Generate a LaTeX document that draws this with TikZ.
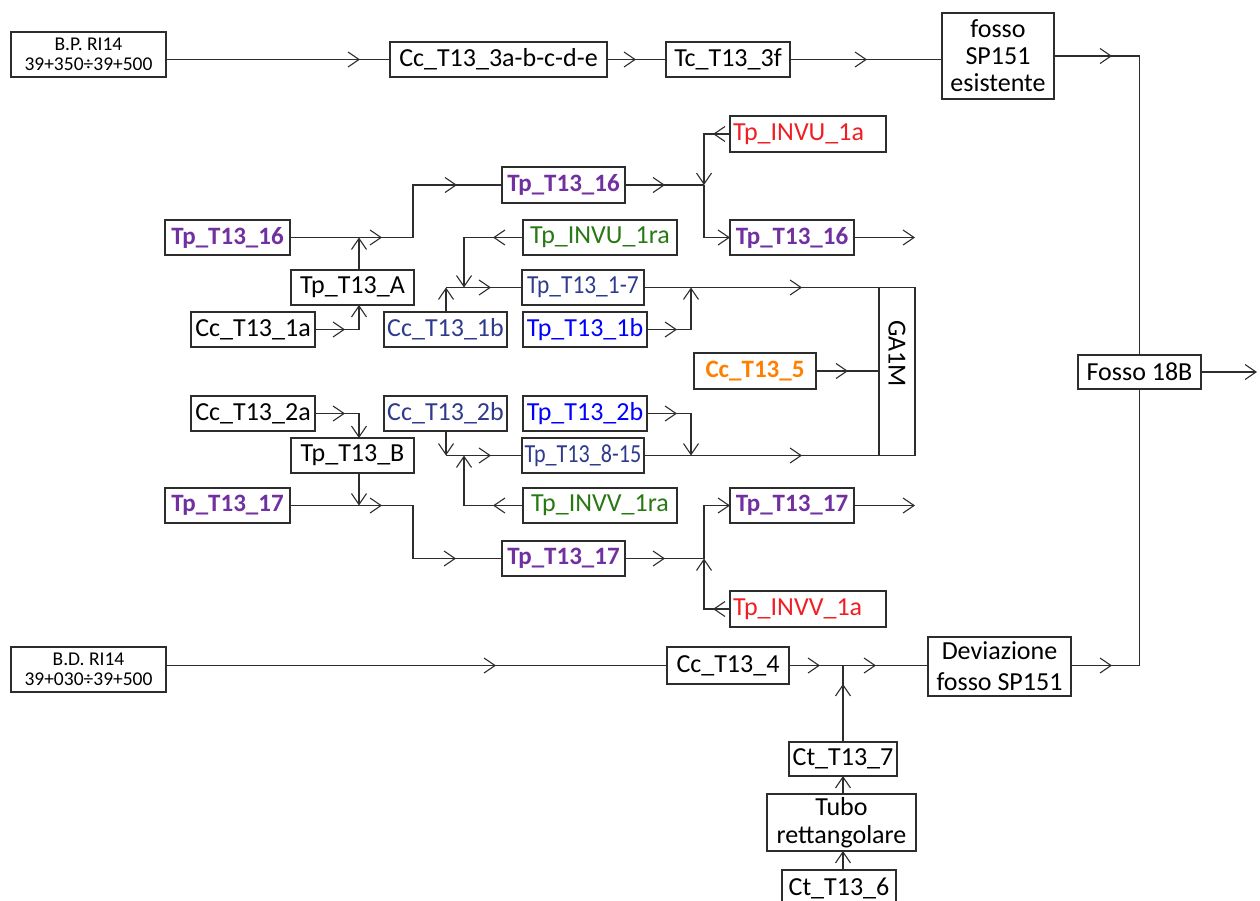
\documentclass[tikz,border=0pt]{standalone}
\usepackage{fontspec}
\usepackage{graphicx}
\setmainfont{Carlito}
\usetikzlibrary{arrows.meta,decorations.markings}
\definecolor{cpurple}{RGB}{112,48,160}
\definecolor{cred}{RGB}{240,30,35}
\definecolor{cgreen}{RGB}{40,120,20}
\definecolor{cdblue}{RGB}{46,58,140}
\definecolor{cblue}{RGB}{0,0,255}
\definecolor{corange}{RGB}{255,128,0}
\definecolor{cline}{RGB}{45,45,45}
\tikzset{
  box/.style={draw=cline, line width=1.1pt, inner sep=0pt, outer sep=0pt, align=center, font=\fontsize{26}{28}\selectfont},
  smallf/.style={font=\fontsize{19.5}{20}\selectfont},
  pbold/.style={text=cpurple, font=\fontsize{25}{28}\selectfont\bfseries},
  conn/.style={draw=cline, line width=1.1pt},
  >={Straight Barb[length=11pt,width=15pt]},
  ar/.style={postaction={decorate,decoration={markings,mark=at position #1 with {\arrow{>}}}}},
}
\newcommand{\BoxN}[7]{\node[box,#6,minimum width={(#4-#2)*1pt},minimum height={(#5-#3)*1pt}] (#1) at ({(#2+#4)/2},{(#3+#5)/2}) {#7};}
\begin{document}
\begin{tikzpicture}[x=1pt,y=-1pt]
\useasboundingbox (0,0) rectangle (1260,900);
% ---------- nodes ----------
\BoxN{bp}{11}{32}{166}{77}{smallf}{B.P. RI14\\39+350÷39+500}
\BoxN{cc3}{390}{42}{607}{77}{}{Cc\_T13\_3a-b-c-d-e}
\BoxN{tc}{666}{42}{790}{77}{}{Tc\_T13\_3f}
\BoxN{fosso}{942}{13}{1054}{99}{font=\fontsize{26}{27}\selectfont}{fosso\\SP151\\esistente}
\BoxN{invu1a}{730}{116}{886}{152}{text=cred,text width=150pt,align=left}{Tp\_INVU\_1a}
\BoxN{tp16T}{502}{167}{625}{203}{pbold}{Tp\_T13\_16}
\BoxN{tp16L}{165}{220}{290}{255}{pbold}{Tp\_T13\_16}
\BoxN{invu1ra}{523}{220}{677}{255}{text=cgreen}{Tp\_INVU\_1ra}
\BoxN{tp16R}{730}{220}{854}{255}{pbold}{Tp\_T13\_16}
\BoxN{tpA}{291}{270}{414}{305}{}{Tp\_T13\_A}
\BoxN{tp17}{522}{270}{644}{305}{text=cdblue}{\scalebox{0.9}[1]{Tp\_T13\_1-7}}
\BoxN{cc1a}{191}{312}{315}{347}{}{Cc\_T13\_1a}
\BoxN{cc1b}{384}{312}{507}{347}{text=cdblue}{Cc\_T13\_1b}
\BoxN{tp1b}{523}{312}{647}{347}{text=cblue}{Tp\_T13\_1b}
\node[box,rotate=-90,minimum width=168pt,minimum height=36pt,text width=103pt,align=left] (ga) at (897,371.5) {GA1M};
\BoxN{cc5}{694}{353}{816}{389}{text=corange,font=\fontsize{25}{28}\selectfont\bfseries}{Cc\_T13\_5}
\BoxN{fosso18}{1078}{355}{1201}{389}{}{Fosso 18B}
\BoxN{cc2a}{191}{396}{315}{431}{}{Cc\_T13\_2a}
\BoxN{cc2b}{384}{396}{507}{431}{text=cdblue}{Cc\_T13\_2b}
\BoxN{tp2b}{523}{396}{647}{431}{text=cblue}{Tp\_T13\_2b}
\BoxN{tpB}{291}{438}{414}{473}{}{Tp\_T13\_B}
\BoxN{tp815}{522}{438}{644}{473}{text=cdblue}{\scalebox{0.85}[1]{Tp\_T13\_8-15}}
\BoxN{tp17L}{165}{488}{290}{523}{pbold}{Tp\_T13\_17}
\BoxN{invv1ra}{523}{488}{677}{523}{text=cgreen}{Tp\_INVV\_1ra}
\BoxN{tp17R}{730}{488}{854}{523}{pbold}{Tp\_T13\_17}
\BoxN{tp17B}{502}{541}{625}{576}{pbold}{Tp\_T13\_17}
\BoxN{invv1a}{730}{591}{886}{627}{text=cred,text width=150pt,align=left}{Tp\_INVV\_1a}
\BoxN{bd}{11}{647}{166}{692}{smallf}{B.D. RI14\\39+030÷39+500}
\BoxN{cc4}{667}{647}{789}{684}{}{Cc\_T13\_4}
\BoxN{dev}{928}{637}{1071}{696}{font=\fontsize{26}{31}\selectfont}{Deviazione\\fosso SP151}
\BoxN{ct7}{789}{742}{897}{776}{}{Ct\_T13\_7}
\BoxN{tubo}{767}{794}{916}{851}{}{Tubo\\rettangolare}
\BoxN{ct6}{782}{870}{896}{906}{}{Ct\_T13\_6}
% ---------- coordinates ----------
\coordinate (outR) at (1257,372);
\coordinate (o16) at (915,237.5);
\coordinate (o17) at (915,505.5);
\coordinate (jA) at (359,237.5);
\coordinate (jU) at (704,185);
\coordinate (jB) at (464,287.5);
\coordinate (jB1) at (446,287.5);
\coordinate (jF) at (691,287.5);
\coordinate (jBB) at (359,505.5);
\coordinate (jC) at (446,455.5);
\coordinate (jD) at (464,455.5);
\coordinate (jE) at (691,455.5);
\coordinate (jL) at (704,558.5);
% ---------- top row ----------
\draw[conn,ar=194pt] (bp.east |- cc3.west) -- (cc3.west);
\draw[conn,ar=29pt] (cc3.east) -- (tc.west);
\draw[conn,ar=77pt] (tc.east) -- (tc.east -| fosso.west);
\draw[conn,ar=58pt] (fosso.east) -| (fosso18.north);
\draw[conn,->] (fosso18.east) -- (outR);
\draw[conn,ar=41pt] (cc4.east -| dev.east) -| (fosso18.south);
% ---------- upper branch ----------
\draw[conn,ar=92pt,ar=219.5pt] (tp16L.east) -- ++(123,0) |- (tp16T.west);
\draw[conn,->] (tpA.north -| jA) -- (jA);
\draw[conn,->,ar=30pt] (cc1a.east) -| (tpA.south -| jA);
\draw[conn,ar=40pt] (tp16T.east) -- (jU);
\draw[conn,->,ar=17pt] (invu1a.west) -| (jU);
\draw[conn,->] (jU) |- (tp16R.west);
\draw[conn,->] (tp16R.east) -- (o16);
\draw[conn,->,ar=30pt] (invu1ra.west) -| (jB);
\draw[conn,->] (cc1b.north -| jB1) -- (jB1);
\draw[conn,ar=45pt] (jB1) -- (tp17.west);
\draw[conn,ar=158pt] (tp17.east) -- (ga.north west);
\draw[conn,->,ar=30pt] (tp1b.east) -| (jF);
\draw[conn,ar=32pt] (cc5.east) -- (cc5.east -| ga.south);
% ---------- lower branch ----------
\draw[conn,->,ar=30pt] (cc2a.east) -| (tpB.north -| jA);
\draw[conn,->] (tpB.south -| jBB) -- (jBB);
\draw[conn,ar=92pt,ar=219pt] (tp17L.east) -- ++(123,0) |- (tp17B.west);
\draw[conn,->] (cc2b.south -| jC) -- (jC);
\draw[conn,ar=45pt] (jC) -- (tp815.west);
\draw[conn,->,ar=30pt] (invv1ra.west) -| (jD);
\draw[conn,->,ar=30pt] (tp2b.east) -| (jE);
\draw[conn,ar=158pt] (tp815.east) -- (ga.north east);
\draw[conn,ar=40pt] (tp17B.east) -- (jL);
\draw[conn,->,ar=17pt] (invv1a.west) -| (jL);
\draw[conn,->] (jL) |- (tp17R.west);
\draw[conn,->] (tp17R.east) -- (o17);
% ---------- bottom ----------
\draw[conn,ar=330pt] (bd.east |- cc4.west) -- (cc4.west);
\draw[conn,ar=31pt,ar=87pt] (cc4.east) -- (cc4.east -| dev.west);
\draw[conn,ar=58pt] (ct7.north) -- (ct7.north |- cc4.east);
\draw[conn,->] (ct7.south |- tubo.north) -- (ct7.south);
\draw[conn,->] (ct7.south |- ct6.north) -- (ct7.south |- tubo.south);
\end{tikzpicture}
\end{document}
